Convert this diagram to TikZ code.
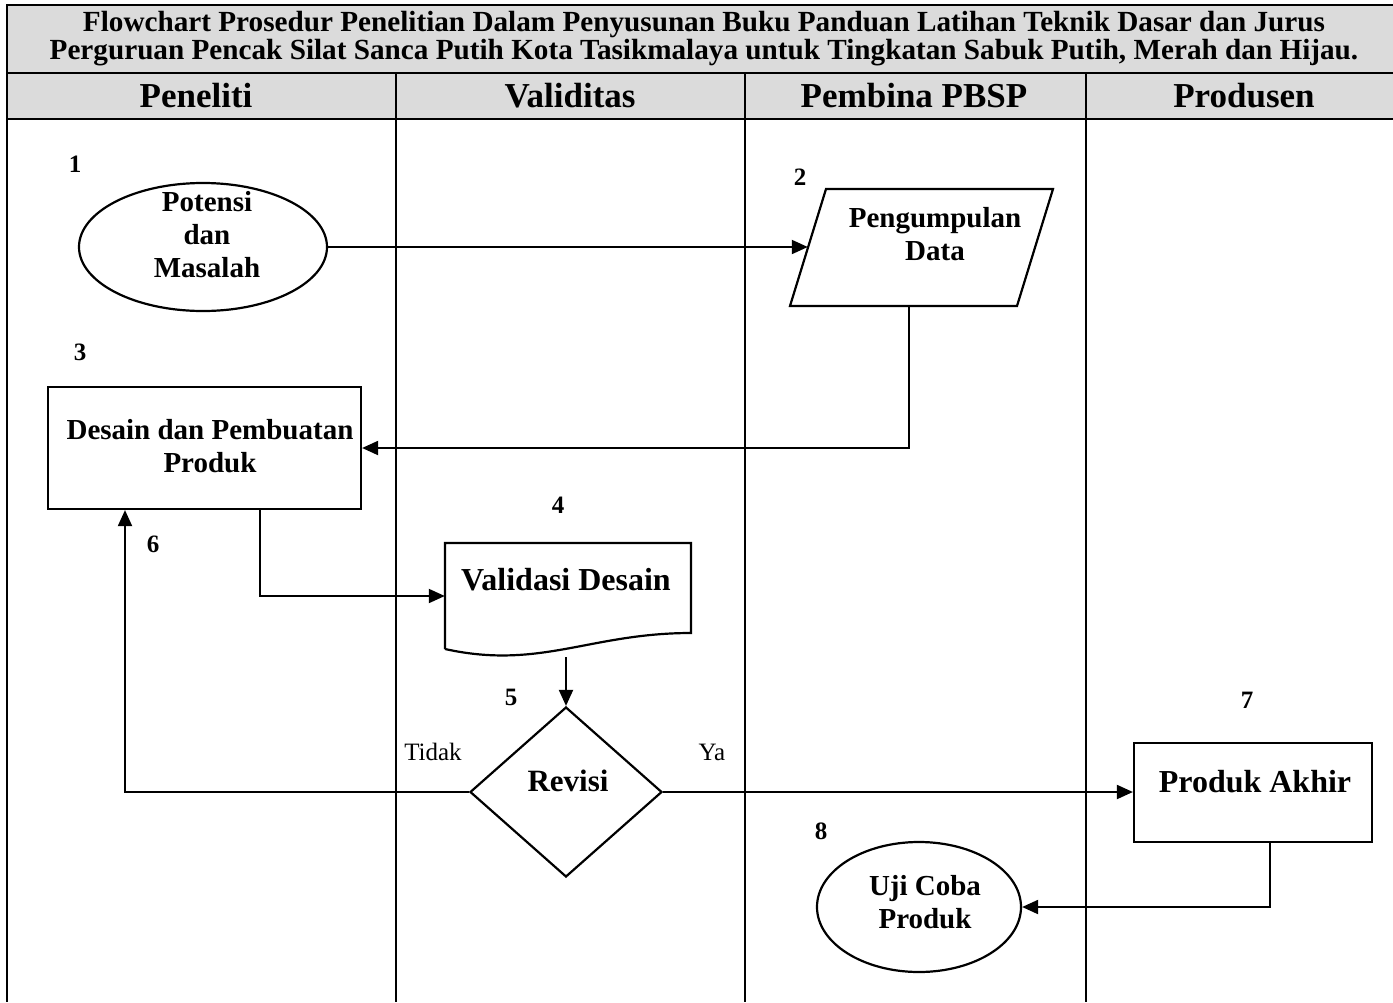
\documentclass[tikz,border=0pt]{standalone}
\usepackage{fontspec}
\setmainfont{Liberation Serif}
\usetikzlibrary{shapes.geometric,arrows.meta,calc}
\begin{document}
\begin{tikzpicture}[x=1pt,y=-1pt,
  gridline/.style={line width=2.6pt,black},
  shapeline/.style={line width=2.2pt,black},
  boxnode/.style={shapeline,draw,rectangle,inner sep=0pt},
  ovalnode/.style={shapeline,draw,ellipse,inner sep=0pt},
  decnode/.style={shapeline,draw,diamond,inner sep=0pt},
  ghost/.style={rectangle,inner sep=0pt},
  txt/.style={font=\fontsize{29}{33}\selectfont\bfseries,align=center,inner sep=0pt},
  bigtxt/.style={font=\fontsize{32}{36}\selectfont\bfseries,align=center,inner sep=0pt},
  ttl/.style={font=\fontsize{29.2}{26}\selectfont\bfseries,inner sep=0pt,align=center},
  hdr/.style={font=\fontsize{35}{40}\selectfont\bfseries,inner sep=0pt,anchor=base},
  num/.style={font=\fontsize{25}{28}\selectfont\bfseries,inner sep=0pt},
  lbl/.style={font=\fontsize{25}{28}\selectfont,inner sep=0pt},
  arr/.style={line width=2pt,-{Triangle[length=16pt,width=14pt]}},
]
\useasboundingbox (0,0) rectangle (1393,1002);
% table frame
\fill[gray!28] (7,5) rectangle (1393,119);
\draw[gridline] (1393,5) -- (7,5) -- (7,1002);
\draw[gridline] (7,73) -- (1393,73);
\draw[gridline] (7,119) -- (1393,119);
\foreach \x in {396,745,1086} \draw[gridline] (\x,73) -- (\x,1002);
% title
\node[ttl] (ttl) at (704,38.5) {Flowchart Prosedur Penelitian Dalam Penyusunan Buku Panduan Latihan Teknik Dasar dan Jurus\\Perguruan Pencak Silat Sanca Putih Kota Tasikmalaya untuk Tingkatan Sabuk Putih, Merah dan Hijau.};
% headers
\node[hdr] (h1) at (196,107) {Peneliti};
\node[hdr] (h2) at (570,107) {Validitas};
\node[hdr] (h3) at (914,107) {Pembina PBSP};
\node[hdr] (h4) at (1244,107) {Produsen};
% step numbers
\node[num] (n1) at (75,164) {1};
\node[num] (n2) at (800,177) {2};
\node[num] (n3) at (80,352) {3};
\node[num] (n4) at (558,505) {4};
\node[num] (n5) at (511,697) {5};
\node[num] (n6) at (153,544) {6};
\node[num] (n7) at (1247,700) {7};
\node[num] (n8) at (821,831) {8};
% shapes
\node[ovalnode,minimum width=248pt,minimum height=128pt] (e1) at (203,247) {};
\node[txt] (e1t) at (207,235) {Potensi\\dan\\Masalah};
\node[ghost,minimum width=227pt,minimum height=117pt] (pg) at (921.5,247.5) {};
\draw[shapeline,line join=miter] (790,306) -- (1017,306) -- (1053,189) -- (826,189) -- cycle;
\node[txt] (pgt) at (935,234) {Pengumpulan\\Data};
\node[boxnode,minimum width=313pt,minimum height=122pt] (r3) at (204.5,448) {};
\node[txt] (r3t) at (210,446) {Desain dan Pembuatan\\Produk};
\node[ghost,minimum width=246pt,minimum height=108pt] (doc) at (568,596) {};
\draw[shapeline,line join=miter] (445,649) -- (445,543) -- (691,543) -- (691,633)
  .. controls (590,633) and (540,670) .. (445,649);
\node[bigtxt] (doct) at (566,580) {Validasi Desain};
\coordinate (docout) at (566,657);
\node[decnode,minimum width=192pt,minimum height=170pt] (d5) at (566,792) {};
\node[font=\fontsize{31}{34}\selectfont\bfseries,inner sep=0pt] (d5t) at (568,781) {Revisi};
\node[boxnode,minimum width=238pt,minimum height=99pt] (r7) at (1253,792.5) {};
\node[bigtxt] (r7t) at (1255,782) {Produk Akhir};
\node[ovalnode,minimum width=204pt,minimum height=130pt] (e8) at (919,907) {};
\node[txt] (e8t) at (925,902) {Uji Coba\\Produk};
% branch labels
\node[lbl] (tidak) at (433,752) {Tidak};
\node[lbl] (ya) at (712,752) {Ya};
% connectors
\draw[arr] (e1.east) -- (e1.east -| pg.west);
\draw[arr] ([xshift=-12.5pt]pg.south) |- (r3.east);
\draw[arr] ([xshift=55.5pt]r3.south) |- (doc.west);
\draw[arr] (docout) -- (d5.north);
\draw[arr] (d5.east) -- (d5.east -| r7.west);
\draw[arr] (d5.west) -| ([xshift=-79.5pt]r3.south);
\draw[arr] ([xshift=17pt]r7.south) |- (e8.east);
\end{tikzpicture}
\end{document}
